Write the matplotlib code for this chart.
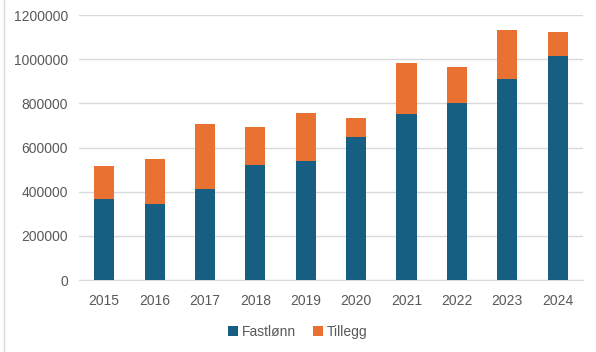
import numpy as np
import matplotlib.pyplot as plt
from matplotlib.lines import Line2D

years = ["2015", "2016", "2017", "2018", "2019", "2020", "2021", "2022", "2023", "2024"]
fastlonn = [365000, 345000, 413000, 523000, 541000, 650000, 750000, 800000, 909000, 1014000]
totals = [515000, 550000, 705000, 691000, 755000, 732000, 982000, 964000, 1132000, 1123000]
tillegg = [t - f for t, f in zip(totals, fastlonn)]

plt.rcParams["font.family"] = ["Liberation Sans", "DejaVu Sans"]

fig = plt.figure(figsize=(5.96, 3.52), dpi=100)
ax = fig.add_axes([0.1326, 0.2045, 0.8454, 0.7525])

x = np.arange(len(years))
ax.bar(x, fastlonn, width=0.4, color="#175F82", label="Fastlønn", zorder=3)
ax.bar(x, tillegg, width=0.4, bottom=fastlonn, color="#E97132", label="Tillegg", zorder=3)

ax.set_xlim(-0.5, len(years) - 0.5)
ax.set_ylim(0, 1200000)
ax.set_yticks(np.arange(0, 1200001, 200000))
ax.set_yticklabels([str(v) for v in range(0, 1200001, 200000)])
ax.set_xticks(x)
ax.set_xticklabels(years)
ax.grid(axis="y", color="#D9D9D9", linewidth=1, zorder=0)
for s in ["top", "right", "left"]:
    ax.spines[s].set_visible(False)
ax.spines["bottom"].set_color("#D9D9D9")
ax.tick_params(axis="both", length=0, colors="#595959", labelsize=10)
ax.tick_params(axis="x", pad=10)
ax.tick_params(axis="y", pad=8)

fig.legend(loc="center", bbox_to_anchor=(0.5, 0.057), ncol=2, frameon=False,
           fontsize=10, handlelength=0.7, handleheight=0.7, handletextpad=0.3,
           columnspacing=1.2, labelcolor="#595959")

# sheet edge at the far left
fig.add_artist(Line2D([0.006, 0.006], [0, 1], color="#D9D9D9", linewidth=1))

fig.savefig("out.png", dpi=100)
